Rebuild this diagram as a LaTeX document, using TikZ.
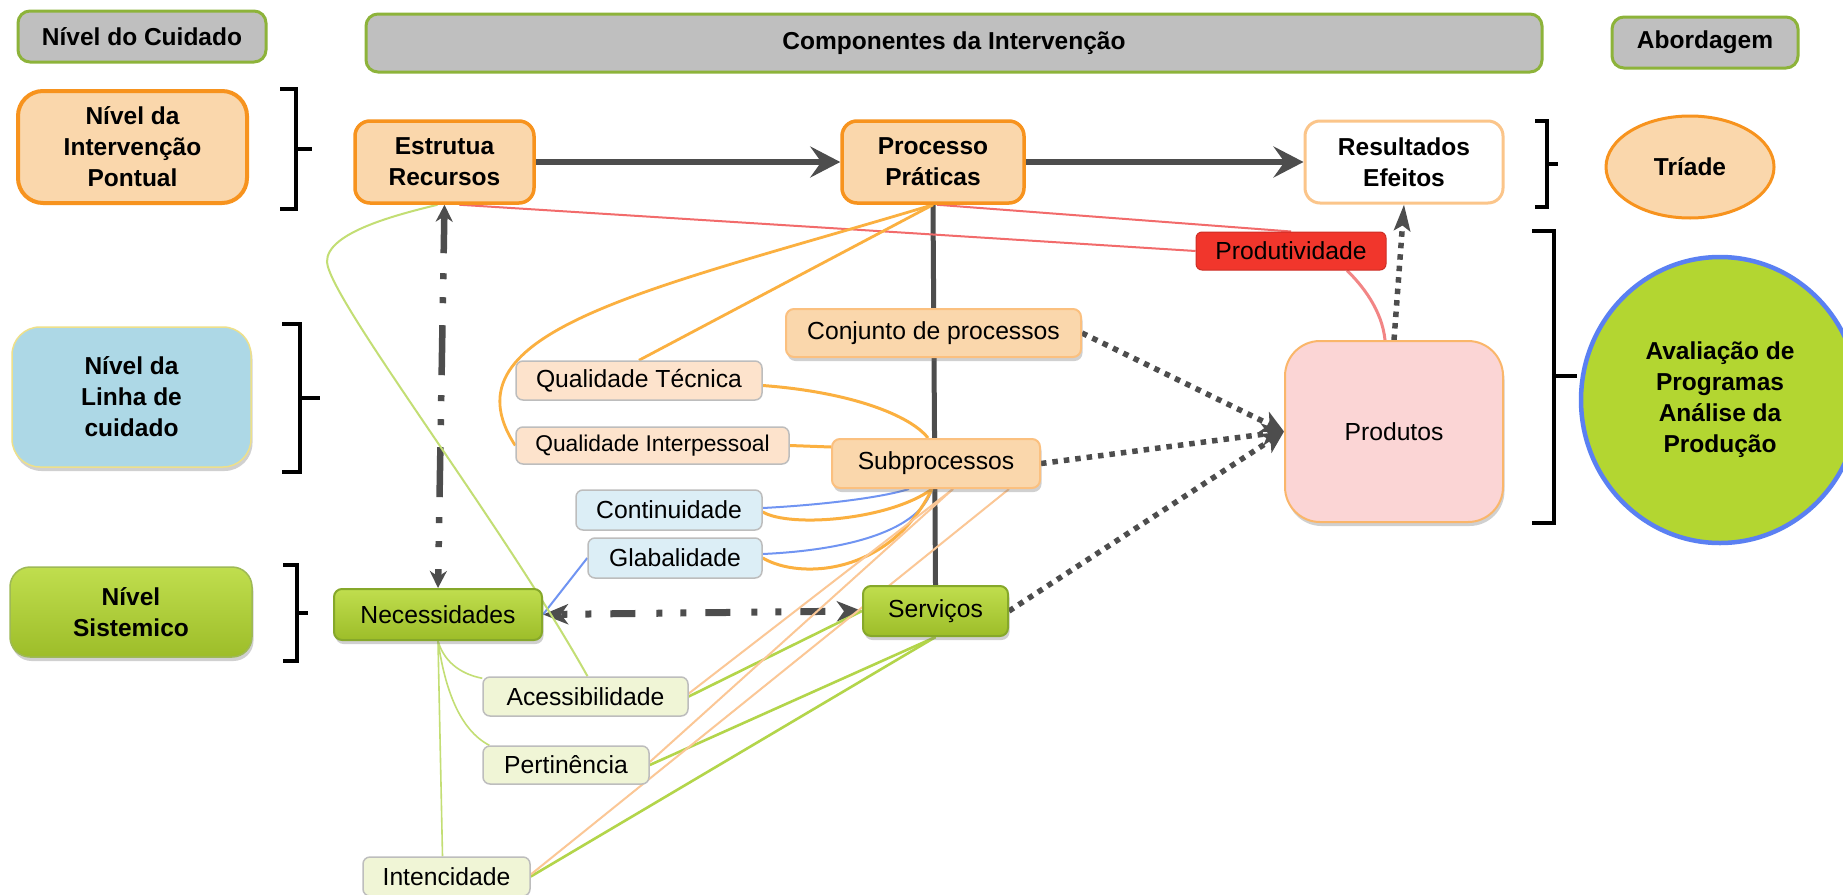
\documentclass[tikz,border=0pt]{standalone}
\usepackage{fontspec}
\setmainfont{Liberation Sans}
\usetikzlibrary{arrows.meta,shapes.geometric,shadows,calc}
\pgfdeclarelayer{bg}
\pgfsetlayers{bg,main}

\definecolor{hdrgray}{HTML}{BFBFBF}
\definecolor{hdrgreen}{HTML}{8DB33A}
\definecolor{peach}{HTML}{FAD7AC}
\definecolor{orng}{HTML}{F7931E}
\definecolor{lorng}{HTML}{FBC58A}
\definecolor{lblue}{HTML}{ADD8E6}
\definecolor{khaki}{HTML}{EEE08A}
\definecolor{dgray}{HTML}{4D4D4D}
\definecolor{lpeach}{HTML}{FDE3CC}
\definecolor{pblue}{HTML}{DCEEF6}
\definecolor{pgreen}{HTML}{F0F5D6}
\definecolor{boxgray}{HTML}{BDBDBD}
\definecolor{prodred}{HTML}{F1362C}
\definecolor{pinkfill}{HTML}{FBD5D5}
\definecolor{lime}{HTML}{B3D631}
\definecolor{cblue}{HTML}{5A80F2}
\definecolor{linered}{HTML}{F26B6B}
\definecolor{linepink}{HTML}{F28585}
\definecolor{lineorange}{HTML}{FBB040}
\definecolor{linepeach}{HTML}{FBC796}
\definecolor{lineblue}{HTML}{7094F2}
\definecolor{linegreen}{HTML}{C3DE74}
\definecolor{linegreenb}{HTML}{B3D54A}
\definecolor{gtop}{HTML}{C0DE4E}
\definecolor{gbot}{HTML}{9DBD29}
\definecolor{gborder}{HTML}{86A82A}

\newcommand\myR{\fontsize{24.7}{30}\selectfont}
\newcommand\myRs{\fontsize{22.8}{28}\selectfont}
\newcommand\myB{\fontsize{24.5}{31}\selectfont\bfseries}

\tikzset{
  base/.style={inner sep=0pt, align=center, text=black},
  sh/.style={drop shadow={shadow xshift=1.5pt, shadow yshift=-4pt, opacity=0.3, fill=black!60}},
  hdr/.style={base, rounded corners=12pt, fill=hdrgray, draw=hdrgreen, line width=3pt, font=\myB},
  orbig/.style={base, rounded corners=15pt, fill=peach, draw=orng, line width=3.5pt, font=\myB},
  lab/.style={base, rounded corners=7pt, draw=boxgray, line width=1.5pt, font=\myR},
  orlab/.style={base, rounded corners=8pt, fill=peach, draw=lorng!90!orng, line width=2pt, font=\myR, sh},
  grlab/.style={base, rounded corners=8pt, top color=gtop, bottom color=gbot, draw=gborder, line width=2pt, font=\myR, sh},
  brk/.style={black, line width=4pt, line join=miter},
  mainarr/.style={dgray, line width=5.5pt, -{Stealth[length=30pt, width=31pt, inset=11pt]}},
  dotarr/.style={dgray, line width=5.5pt, dash pattern=on 5.5pt off 6pt, -{Stealth[length=22pt, width=22pt, inset=6pt]}},
  dotarrup/.style={dgray, line width=5.5pt, dash pattern=on 5.5pt off 6pt, -{Stealth[length=26pt, width=16pt, inset=5pt]}},
  orline/.style={lineorange, line width=2.8pt},
  blline/.style={lineblue, line width=2pt},
  pcline/.style={linepeach, line width=2pt},
  gnthin/.style={linegreen, line width=1.6pt},
  gnthick/.style={linegreenb, line width=2.6pt},
  rdline/.style={linered, line width=2pt},
}

\begin{document}
\begin{tikzpicture}[x=1pt, y=-1pt]
\useasboundingbox (0,0) rectangle (1843,894);

% header row
\node[hdr, minimum width=248pt, minimum height=51pt] (nc) at (142,36.5) {Nível do Cuidado};
\node[hdr, minimum width=1176pt, minimum height=58pt] (ci) at (954,43) {Componentes da Intervenção};
\node[hdr, minimum width=186pt, minimum height=51pt] (ab) at (1705,42.5) {Abordagem};

% level boxes
\node[base, font=\myB, rounded corners=25pt, fill=peach, draw=orng, line width=4pt, minimum width=229pt, minimum height=112pt] (niv1) at (132.5,147) {Nível da\\Intervenção\\Pontual};
\node[base, font=\myB, rounded corners=28pt, fill=lblue, draw=khaki, line width=1.5pt, minimum width=239pt, minimum height=140pt, sh] (niv2) at (131.5,397) {Nível da\\Linha de\\cuidado};
\node[base, font=\myB, rounded corners=20pt, top color=gtop, bottom color=gbot, draw=gborder!80, line width=1.5pt, minimum width=242pt, minimum height=90pt, sh] (niv3) at (131,612) {Nível\\Sistemico};

% intervention components
\node[orbig, minimum width=179pt, minimum height=82pt] (estr) at (444.5,162) {Estrutua\\Recursos};
\node[orbig, minimum width=182pt, minimum height=82pt] (proc) at (933,162) {Processo\\Práticas};
\node[orbig, fill=white, draw=lorng, line width=3pt, minimum width=198pt, minimum height=82pt] (res) at (1404,162) {Resultados\\Efeitos};
\node[base, ellipse, font=\myB, fill=peach, draw=orng, line width=3pt, minimum width=168pt, minimum height=102pt] (tri) at (1690,167) {Tríade};

\node[base, rounded corners=6pt, fill=prodred, draw=prodred!85!black, line width=1pt, font=\myR, minimum width=190pt, minimum height=38pt] (prodv) at (1291,251) {Produtividade};
\node[orlab, minimum width=295pt, minimum height=48pt] (conj) at (933.5,333) {Conjunto de processos};
\node[lab, fill=lpeach, minimum width=246pt, minimum height=39pt] (qt) at (639,380.5) {Qualidade Técnica};
\node[lab, fill=lpeach, font=\myRs, minimum width=273pt, minimum height=37pt] (qi) at (652.5,445.5) {Qualidade Interpessoal};
\node[orlab, minimum width=208pt, minimum height=49pt] (sub) at (936,463.5) {Subprocessos};
\node[lab, fill=pblue, minimum width=186pt, minimum height=40pt] (cont) at (669,510) {Continuidade};
\node[lab, fill=pblue, minimum width=174pt, minimum height=40pt] (glab) at (675,558) {Glabalidade};
\node[base, rounded corners=35pt, fill=pinkfill, draw=lorng!70!orng, line width=2pt, font=\myR, minimum width=218pt, minimum height=181pt, sh] (prod) at (1394,431.5) {Produtos};
\node[base, ellipse, font=\myB, fill=lime, draw=cblue, line width=4.5pt, minimum width=278pt, minimum height=286pt] (aval) at (1720,400) {Avaliação de\\Programas\\Análise da\\Produção};

\node[grlab, minimum width=208pt, minimum height=51pt] (nec) at (438,614.5) {Necessidades};
\node[grlab, minimum width=145pt, minimum height=50pt] (serv) at (935.5,611) {Serviços};
\node[lab, fill=pgreen, minimum width=205pt, minimum height=39pt] (acc) at (585.5,696.5) {Acessibilidade};
\node[lab, fill=pgreen, minimum width=166pt, minimum height=38pt] (pert) at (566,765) {Pertinência};
\node[lab, fill=pgreen, minimum width=167pt, minimum height=39pt] (int) at (446.5,876.5) {Intencidade};

% brackets
\draw[brk] (280,89) -- (296,89) -- (296,209) -- (280,209);
\draw[brk] (296,149) -- (312,149);
\draw[brk] (282,324) -- (300,324) -- (300,472) -- (282,472);
\draw[brk] (300,398) -- (320,398);
\draw[brk] (283,565) -- (297,565) -- (297,661) -- (283,661);
\draw[brk] (297,613) -- (308,613);
\draw[brk] (1535,121) -- (1547,121) -- (1547,207) -- (1535,207);
\draw[brk] (1547,164) -- (1558,164);
\draw[brk] (1532,231) -- (1554,231) -- (1554,523) -- (1532,523);
\draw[brk] (1554,376) -- (1577,376);

\begin{pgfonlayer}{bg}
\fill[white] (0,0) rectangle (1843,894);
% spine
\draw[dgray, line width=5pt] (proc.south) -- (serv.north);
% main arrows
\draw[mainarr] (estr.east) -- (proc.west);
\draw[mainarr] (proc.east) -- (res.west);
% red lines
\draw[rdline] ($(estr.south)+(15,0)$) -- (prodv.west);
\draw[rdline] ($(proc.south)+(4,0)$) -- (prodv.north);
\draw[linepink, line width=3pt] ($(prodv.south)+(56,0)$) .. controls (1362,285) and (1382,310) .. ($(prod.north)+(-9,0)$);
% dotted arrows
\draw[dotarr] (conj.east) -- (prod.west);
\draw[dotarr] (sub.east) -- (prod.west);
\draw[dotarr] (serv.east) -- (prod.west);
\draw[dotarrup] (prod.north) -- (res.south);
% dash-dot arrows
\draw[dgray, line width=6.5pt, dash pattern=on 50pt off 20pt on 6pt off 18pt on 6pt off 22pt, dash phase=12pt,
  {Stealth[length=17pt, width=17pt]}-{Stealth[length=17pt, width=17pt]}] (estr.south) -- (nec.north);
\draw[dgray, line width=7pt, dash pattern=on 6pt off 18pt on 6pt off 19pt on 25pt off 21pt, dash phase=-2pt,
  {Stealth[length=25pt, width=20pt, inset=7pt]}-{Stealth[length=25pt, width=20pt, inset=7pt]}] (nec.east) -- (serv.west);
% processo to quality labels
\draw[orline] (proc.south) -- (qt.north);
\draw[orline] (proc.south) .. controls (650,290) and (440,330) .. (qi.west);
% quality to subprocessos
\draw[orline, line width=3pt] ($(qt.east)+(0,5)$) .. controls (850,392) and (910,415) .. ($(sub.north)+(-8,0)$);
\draw[orline, line width=3pt] (qi.east) -- ($(sub.north west)+(0,9)$);
\draw[blline] ($(cont.east)+(0,-2)$) .. controls (820,505) and (880,498) .. ($(sub.south)+(-27,0)$);
\draw[orline, line width=3pt] ($(cont.east)+(0,2)$) .. controls (790,528) and (890,520) .. ($(sub.south)+(-4,0)$);
\draw[blline] ($(glab.east)+(0,-4)$) .. controls (850,550) and (920,530) .. ($(sub.south)+(-4,0)$);
\draw[orline, line width=3pt] (glab.east) .. controls (800,580) and (890,575) .. ($(sub.south)+(-4,0)$);
\draw[blline] (nec.east) -- (glab.west);
% long green curve
\draw[gnthin, line width=2pt] ($(estr.south)+(-7,0)$) .. controls (400,214) and (326,232) .. (327,262) .. controls (330,300) and (500,520) .. ($(acc.north)+(2,0)$);
% necessidades to labels
\draw[gnthin] (nec.south) .. controls (445,665) and (465,675) .. ($(acc.north west)+(0,2)$);
\draw[gnthin] (nec.south) .. controls (445,690) and (460,730) .. ($(pert.north west)+(7,0)$);
\draw[gnthin] (nec.south) -- ($(int.north)+(-4,0)$);
% servicos to labels
\draw[gnthick] (acc.east) -- (serv.west);
\draw[gnthick] (pert.east) -- (serv.south);
\draw[gnthick] (int.east) -- (serv.south);
% subprocessos to labels
\draw[pcline] ($(sub.south)+(17,0)$) -- ($(acc.east)+(0,-3)$);
\draw[pcline] ($(sub.south)+(17,0)$) -- ($(pert.east)+(0,-3)$);
\draw[pcline] ($(sub.south east)+(-32,0)$) -- ($(int.east)+(0,-2)$);
\end{pgfonlayer}
\end{tikzpicture}
\end{document}
